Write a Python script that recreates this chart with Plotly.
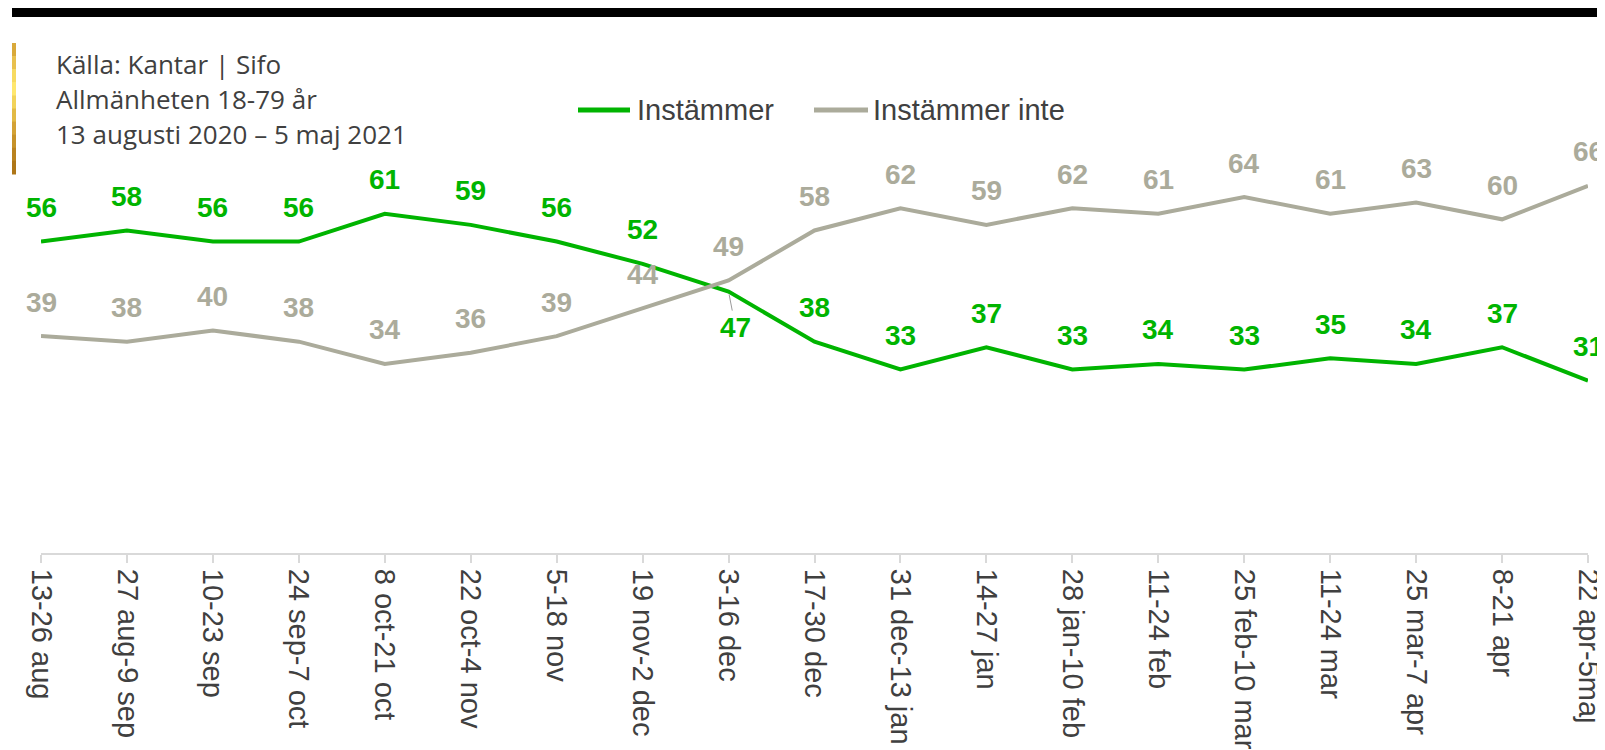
import plotly.graph_objects as go

periods = ["13-26 aug", "27 aug-9 sep", "10-23 sep", "24 sep-7 oct", "8 oct-21 oct",
           "22 oct-4 nov", "5-18 nov", "19 nov-2 dec", "3-16 dec", "17-30 dec",
           "31 dec-13 jan", "14-27 jan", "28 jan-10 feb", "11-24 feb", "25 feb-10 mar",
           "11-24 mar", "25 mar-7 apr", "8-21 apr", "22 apr-5maj"]
instammer = [56, 58, 56, 56, 61, 59, 56, 52, 47, 38, 33, 37, 33, 34, 33, 35, 34, 37, 31]
instammer_inte = [39, 38, 40, 38, 34, 36, 39, 44, 49, 58, 62, 59, 62, 61, 64, 61, 63, 60, 66]

series_names = ["Instämmer", "Instämmer inte"]
source_lines = ["Källa: Kantar | Sifo", "Allmänheten 18-79 år", "13 augusti 2020 – 5 maj 2021"]

GREEN = "#00B400"
GRAY = "#ABAB9B"
TXT = "#404040"

# page has an 8px body margin, so the figure is drawn slightly smaller
OFF = 8
W, H = 1597, 742
L, R, T, B = 33, 17, 0, 197
PW, PH = W - L - R, H - T - B


def px(xp):
    # page x pixel -> paper x
    return (xp - OFF - L) / PW


def py(yp):
    # page y pixel -> paper y
    return 1 - (yp - OFF - T) / PH


fig = go.Figure()
fig.add_trace(go.Scatter(x=periods, y=instammer, mode="lines", name=series_names[0],
                         line=dict(color=GREEN, width=4), showlegend=False))
fig.add_trace(go.Scatter(x=periods, y=instammer_inte, mode="lines", name=series_names[1],
                         line=dict(color=GRAY, width=4), showlegend=False))

# data labels
label_font = dict(family="Liberation Sans, Arial", size=28)
for i, v in enumerate(instammer):
    if i == 8:
        fig.add_annotation(x=periods[i], y=v, text=f"<b>{v}</b>", showarrow=True,
                           arrowhead=0, arrowwidth=1, arrowcolor="#9a9a9a",
                           ax=7, ay=36, standoff=3,
                           font=dict(color=GREEN, **label_font))
    else:
        fig.add_annotation(x=periods[i], y=v, text=f"<b>{v}</b>", showarrow=False,
                           yshift=34, font=dict(color=GREEN, **label_font))
for i, v in enumerate(instammer_inte):
    fig.add_annotation(x=periods[i], y=v, text=f"<b>{v}</b>", showarrow=False,
                       yshift=34, font=dict(color=GRAY, **label_font))

# legend drawn by hand (longer line keys than plotly's own)
for (x0, x1, xt), name, col in zip([(578, 630, 635), (814, 868, 871)], series_names, [GREEN, GRAY]):
    fig.add_shape(type="line", xref="paper", yref="paper", x0=px(x0), x1=px(x1),
                  y0=py(110), y1=py(110), line=dict(color=col, width=5))
    fig.add_annotation(xref="paper", yref="paper", x=px(xt), y=py(110),
                       xanchor="left", yanchor="middle", text=name, showarrow=False,
                       font=dict(family="Liberation Sans, Arial", size=29, color=TXT))

# source text
for k, line in enumerate(source_lines):
    fig.add_annotation(xref="paper", yref="paper", x=px(54), y=py(64 + 35 * k),
                       xanchor="left", yanchor="middle", text=line, showarrow=False,
                       font=dict(family="Open Sans", size=26, color=TXT))

# top black rule
fig.add_shape(type="rect", xref="paper", yref="paper",
              x0=px(12), x1=px(1597), y0=py(17), y1=py(8),
              fillcolor="black", line_width=0, layer="above")

# gold accent bar (stacked bands for a gradient look)
gold = ["#D9A93A", "#E8C04E", "#F7DA60", "#FFE76E", "#F2D35A", "#E2BA45",
        "#D3A236", "#C6922A", "#B98220", "#AE7618"]
y_top, y_bot = 43, 174
step = (y_bot - y_top) / len(gold)
for j, c in enumerate(gold):
    fig.add_shape(type="rect", xref="paper", yref="paper",
                  x0=px(12), x1=px(16),
                  y0=py(y_top + step * (j + 1) + 0.5), y1=py(y_top + step * j),
                  fillcolor=c, line_width=0, layer="above")

fig.update_layout(
    width=W, height=H,
    margin=dict(l=L, r=R, t=T, b=B),
    plot_bgcolor="white", paper_bgcolor="white",
    showlegend=False,
    xaxis=dict(range=[0, 18], showgrid=False, zeroline=False,
               showline=True, linecolor="#D9D9D9", linewidth=2,
               ticks="outside", ticklen=8, tickcolor="#D9D9D9", tickwidth=2,
               tickangle=90, tickfont=dict(family="Liberation Sans, Arial", size=29, color=TXT)),
    yaxis=dict(range=[0, 98], visible=False, fixedrange=True),
)

fig.write_html("out.html")
